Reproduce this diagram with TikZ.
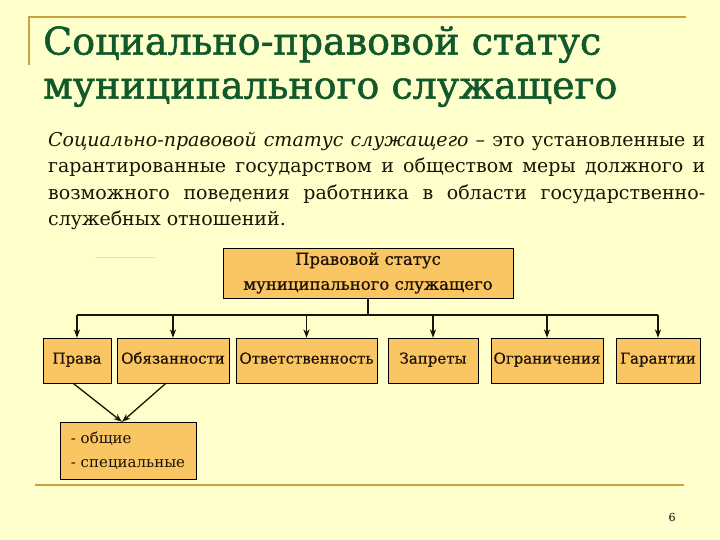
\documentclass[tikz,border=0pt]{standalone}
\usepackage{fontspec}
\setmainfont{DejaVu Serif}
\newfontfamily\headfont[FakeBold=1.4]{DejaVu Serif}
\newfontfamily\boxfont[FakeBold=0.7]{DejaVu Serif}
\usetikzlibrary{positioning, arrows.meta}
\definecolor{slidebg}{HTML}{FFFFCC}
\definecolor{titlegreen}{HTML}{11592B}
\definecolor{goldline}{HTML}{C8A23C}
\definecolor{boxfill}{HTML}{FAC563}
\definecolor{inkbrown}{HTML}{1E1204}

\begin{document}
\begin{tikzpicture}[x=1pt, y=-1pt, >={Stealth[length=3mm, width=2.2mm]},
    box/.style={draw, fill=boxfill, inner sep=0pt, text=inkbrown, text height=1.5ex, text depth=.3ex,
                font=\boxfont\fontsize{15}{18}\selectfont},
    link/.style={line width=1.3pt, inkbrown}]
    % Background and slide frame
    \fill[slidebg] (0,0) rectangle (720,540);
    \useasboundingbox (0,0) rectangle (720,540);
    \draw[goldline, line width=1.6pt] (29,65) -- (29,17) -- (686,17);
    \draw[goldline, line width=2.6pt] (35,485) -- (684,485);
    \draw[goldline!35, line width=1pt] (95,257) -- (155,257);

    % Title and definition
    \node[anchor=north west, inner sep=0pt, text=titlegreen, align=left,
          font=\headfont\fontsize{38}{44}\selectfont] (title) at (43,26)
          {Социально-правовой статус\\муниципального служащего};
    \node[anchor=north west, inner sep=0pt, text=inkbrown, text width=657pt, align=justify,
          font=\fontsize{19}{26.5}\selectfont] (defn) at (48,132)
          {\textit{Социально-правовой статус служащего} – это установленные и\linebreak
           гарантированные государством и обществом меры должного и\linebreak
           возможного поведения работника в области государственно-\linebreak
           служебных отношений.};

    % Boxes
    \node[box, minimum width=290pt, minimum height=50pt, align=center,
          font=\boxfont\fontsize{16.5}{25}\selectfont, text height=, text depth=] (stat) at (368,273)
          {Правовой статус\\муниципального служащего};
    \node[box, minimum width=68pt, minimum height=45pt] (prava) at (77,360.5) {Права};
    \node[box, minimum width=112pt, minimum height=45pt] (obyaz) at (173,360.5) {Обязанности};
    \node[box, minimum width=141pt, minimum height=45pt] (otv) at (306.5,360.5) {Ответственность};
    \node[box, minimum width=90pt, minimum height=45pt] (zapr) at (433,360.5) {Запреты};
    \node[box, minimum width=112pt, minimum height=45pt] (ogr) at (547,360.5) {Ограничения};
    \node[box, minimum width=84pt, minimum height=45pt] (gar) at (658,360.5) {Гарантии};
    \node[box, minimum width=136pt, minimum height=57pt, align=left,
          font=\fontsize{15}{24}\selectfont, text height=, text depth=] (kinds) at (128,450.5)
          {- общие\\- специальные};
    \coordinate (bus) at (368,315);

    % Connections
    \draw[link] (stat.south) -- (bus);
    \draw[link] (prava.north |- bus) -- (gar.north |- bus);
    \foreach \b in {prava, obyaz, otv, zapr, ogr, gar}
        \draw[link, ->] (\b.north |- bus) -- (\b.north);
    \draw[link, ->] ([xshift=-4pt]prava.south) -- ([xshift=-6pt]kinds.north);
    \draw[link, ->] ([xshift=-7pt]obyaz.south) -- ([xshift=-6pt]kinds.north);

    % Page number
    \node[font=\fontsize{11}{12}\selectfont, inner sep=0pt] (page) at (672,517) {6};
\end{tikzpicture}
\end{document}
